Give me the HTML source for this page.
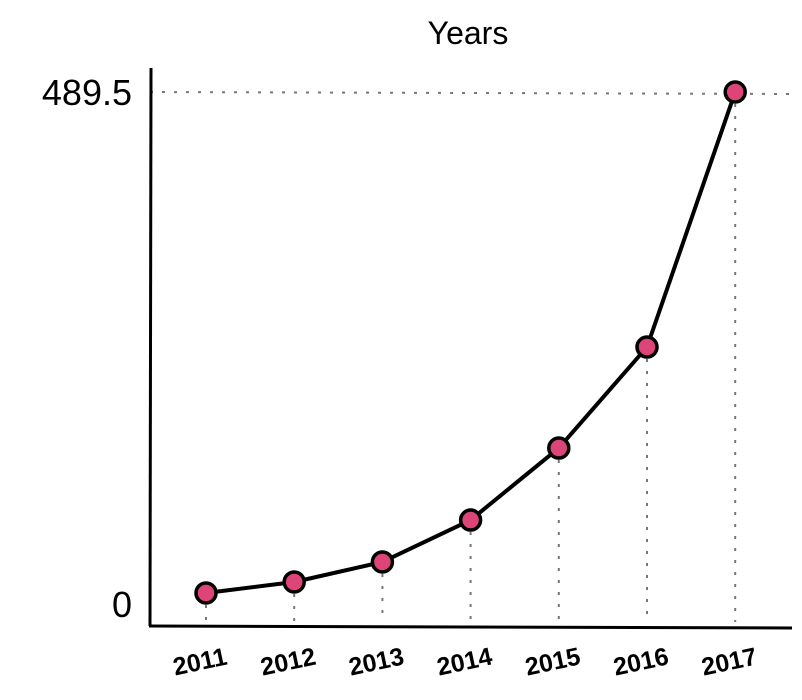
<!DOCTYPE html>
<html><head><meta charset="utf-8">
<style>
html,body{margin:0;padding:0;background:#fff;}
svg{display:block;}
text{font-family:"Liberation Sans",sans-serif;fill:#000;}
</style></head>
<body>
<svg id="chart" width="802" height="700" viewBox="0 0 802 700" xmlns="http://www.w3.org/2000/svg">
<text x="468" y="44" font-size="32" text-anchor="middle">Years</text>
<g id="grid"></g>
<line x1="151" y1="68" x2="150" y2="626" stroke="#000" stroke-width="3"/>
<line x1="149" y1="626" x2="792" y2="628" stroke="#000" stroke-width="3"/>
<g id="ylabels"></g>
<g id="xlabels"></g>
<g id="series"></g>
</svg>
<script>
const categories = ["2011","2012","2013","2014","2015","2016","2017"];
const values = [29.4, 39.5, 57.9, 96.4, 162.5, 255.3, 489.5];
const yTickLabels = ["0","489.5"];
const yTickValues = [0, 489.5];

const NS = "http://www.w3.org/2000/svg";
const yMax = 489.5;
function xScale(i){ return 206 + i*88.2; }
function yScale(v){ return 625 - (v/yMax)*533; }
function mk(tag, attrs, parent){ const e=document.createElementNS(NS,tag); for(const k in attrs) e.setAttribute(k,attrs[k]); parent.appendChild(e); return e; }

const grid=document.getElementById('grid');
const yl=document.getElementById('ylabels');
const xl=document.getElementById('xlabels');
const ser=document.getElementById('series');

yTickValues.forEach((v,i)=>{
  const y=yScale(v);
  if(v>0){
    const g=mk('line',{x1:150,y1:y,x2:790,y2:y+2,stroke:'#777','stroke-width':2,'stroke-dasharray':'3 9'},grid);
    
    
  }
  const t=mk('text',{x:132,y:(v>0?y+13:y-8),'font-size':36,'text-anchor':'end'},yl);
  t.textContent=yTickLabels[i];
  
  
});

categories.forEach((c,i)=>{
  const x=xScale(i), y=yScale(values[i]);
  const g=mk('line',{x1:x,y1:y,x2:x,y2:622,stroke:'#777','stroke-width':2,'stroke-dasharray':'3 9'},grid);
  
  
  const t=mk('text',{x:x-6,y:670,'font-size':25,'font-weight':'bold','text-anchor':'middle',transform:'rotate(-12 '+(x-6)+' 662)'},xl);
  t.textContent=c;
  
  
});

const pts=values.map((v,i)=>xScale(i)+','+yScale(v)).join(' ');
const line=mk('polyline',{points:pts,fill:'none',stroke:'#000','stroke-width':4,'stroke-linejoin':'round'},ser);


values.forEach((v,i)=>{
  const p=mk('circle',{cx:xScale(i),cy:yScale(v),r:10,fill:'#dd4477',stroke:'#000','stroke-width':3.5},ser);
  
  
});
</script>
</body></html>
